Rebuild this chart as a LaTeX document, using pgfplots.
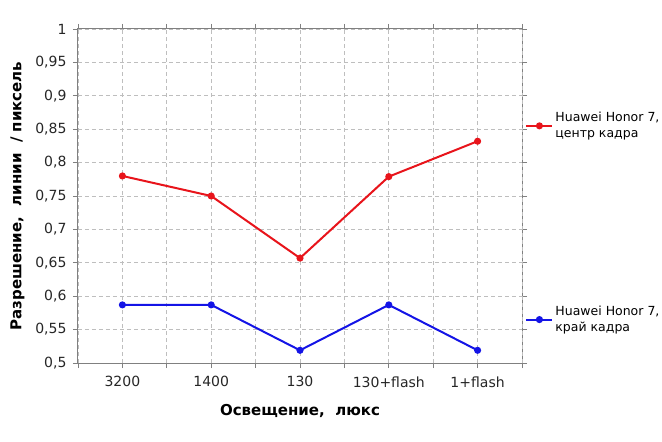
\documentclass[border=0pt]{standalone}
\usepackage{fontspec}
\setmainfont{DejaVu Sans}
\usepackage{pgfplots}
\pgfplotsset{compat=1.18}
\usetikzlibrary{calc}
\definecolor{axgray}{HTML}{808080}
\definecolor{gridgray}{HTML}{BEBEBE}
\definecolor{redline}{HTML}{E8141B}
\definecolor{blueline}{HTML}{1414E6}

\pgfplotsset{base/.style={
  scale only axis, width=444pt, height=334pt,
  xmin=-0.5, xmax=4.5, ymin=0.5, ymax=1,
  legend cell align=left,
  legend image code/.code={
    \draw[mark repeat=2, mark phase=2, #1] plot coordinates {(0pt,0pt) (13pt,0pt) (26pt,0pt)};},
}}

\begin{document}
\begin{tikzpicture}
\begin{axis}[base,
  axis line style={axgray, line width=1pt},
  xtick={0,1,2,3,4}, xticklabels={3200,1400,130,130+flash,1+flash},
  extra x ticks={-0.5,0.5,1.5,2.5,3.5,4.5}, extra x tick labels={},
  extra x tick style={grid=major},
  ytick={0.5,0.55,...,1.0},
  tick style={axgray, line width=0.9pt}, tick align=outside,
  major tick length=5pt,
  grid=major, major grid style={gridgray, dash pattern=on 4pt off 3pt, line width=0.7pt},
  ticklabel style={font=\fontsize{14}{16}\selectfont, text=black!85},
  /pgf/number format/.cd, use comma, fixed, fixed zerofill=false, precision=2, assume math mode=true,
  /pgfplots/.cd,
  xticklabel style={yshift=-5pt},
  yticklabel style={xshift=-3pt},
  xlabel={\bfseries Освещение,\ \ люкс},
  ylabel={\bfseries Разрешение,\ \ линии\ \ / пиксель},
  label style={font=\fontsize{15}{17}\selectfont},
  ylabel style={yshift=4pt},
  legend style={draw=none, fill=none, at={(1.005,0.71)}, anchor=west,
    font=\fontsize{12.5}{16}\selectfont, cells={align=left}, inner xsep=1pt},
]
\addplot[redline, line width=2pt, mark=*, mark size=2.5pt] coordinates {
  (0,0.780) (1,0.750) (2,0.657) (3,0.779) (4,0.832)};
\addlegendentry{Huawei Honor 7,\\центр кадра}
\end{axis}
\begin{axis}[base, hide axis,
  legend style={draw=none, fill=none, at={(1.005,0.13)}, anchor=west,
    font=\fontsize{12.5}{16}\selectfont, cells={align=left}, inner xsep=1pt},
]
\addplot[blueline, line width=2pt, mark=*, mark size=2.5pt] coordinates {
  (0,0.587) (1,0.587) (2,0.519) (3,0.587) (4,0.519)};
\addlegendentry{Huawei Honor 7,\\край кадра}
\end{axis}
\pgfresetboundingbox
\path[use as bounding box] ($(current axis.south west)+(-78pt,-78pt)$) rectangle ($(current axis.north east)+(140pt,29pt)$);
\end{tikzpicture}
\end{document}
